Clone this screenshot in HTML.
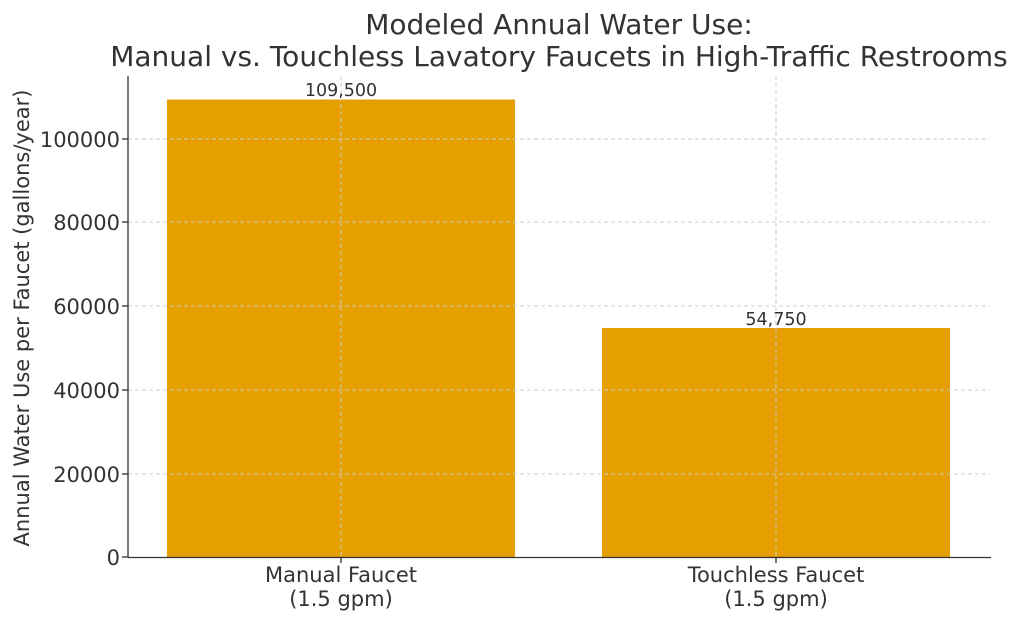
<!DOCTYPE html>
<html><head><style>body{margin:0;background:#fff}svg{display:block}text{font-family:"DejaVu Sans","Liberation Sans",sans-serif;fill:#333}</style></head><body>
<svg width="1024" height="622" viewBox="0 0 1024 622">
<rect x="167" y="99.5" width="348" height="457.5" fill="#E69F00"/>
<rect x="602" y="328" width="348" height="229" fill="#E69F00"/>
<g stroke="#ccc" stroke-width="1" stroke-dasharray="4,3">
<line x1="128" x2="990" y1="474" y2="474"/><line x1="128" x2="990" y1="390" y2="390"/><line x1="128" x2="990" y1="306" y2="306"/><line x1="128" x2="990" y1="222" y2="222"/><line x1="128" x2="990" y1="139" y2="139"/>
<line x1="341" x2="341" y1="76" y2="557"/><line x1="776" x2="776" y1="76" y2="557"/>
</g>
<g stroke="#333" stroke-width="1.3">
<line x1="128" x2="128" y1="76" y2="557.5"/><line x1="128" x2="991" y1="557.5" y2="557.5"/>
<line x1="122" x2="128" y1="557" y2="557"/><line x1="122" x2="128" y1="474" y2="474"/><line x1="122" x2="128" y1="390" y2="390"/><line x1="122" x2="128" y1="306" y2="306"/><line x1="122" x2="128" y1="222" y2="222"/><line x1="122" x2="128" y1="139" y2="139"/>
<line x1="341" x2="341" y1="557" y2="563"/><line x1="776" x2="776" y1="557" y2="563"/>
</g>
<g font-size="21" text-anchor="end">
<text x="120" y="565">0</text><text x="120" y="482">20000</text><text x="120" y="398">40000</text><text x="120" y="314">60000</text><text x="120" y="230">80000</text><text x="120" y="147">100000</text>
</g>
<g font-size="21" text-anchor="middle">
<text x="341" y="582">Manual Faucet</text><text x="341" y="606">(1.5 gpm)</text>
<text x="776" y="582">Touchless Faucet</text><text x="776" y="606">(1.5 gpm)</text>
</g>
<g font-size="17.5" text-anchor="middle">
<text x="341" y="96">109,500</text><text x="776" y="325">54,750</text>
</g>
<text font-size="21" text-anchor="middle" transform="translate(29,318) rotate(-90)">Annual Water Use per Faucet (gallons/year)</text>
<g font-size="28" text-anchor="middle">
<text x="559" y="34">Modeled Annual Water Use:</text>
<text x="559" y="66">Manual vs. Touchless Lavatory Faucets in High-Traffic Restrooms</text>
</g>
</svg>
</body></html>
